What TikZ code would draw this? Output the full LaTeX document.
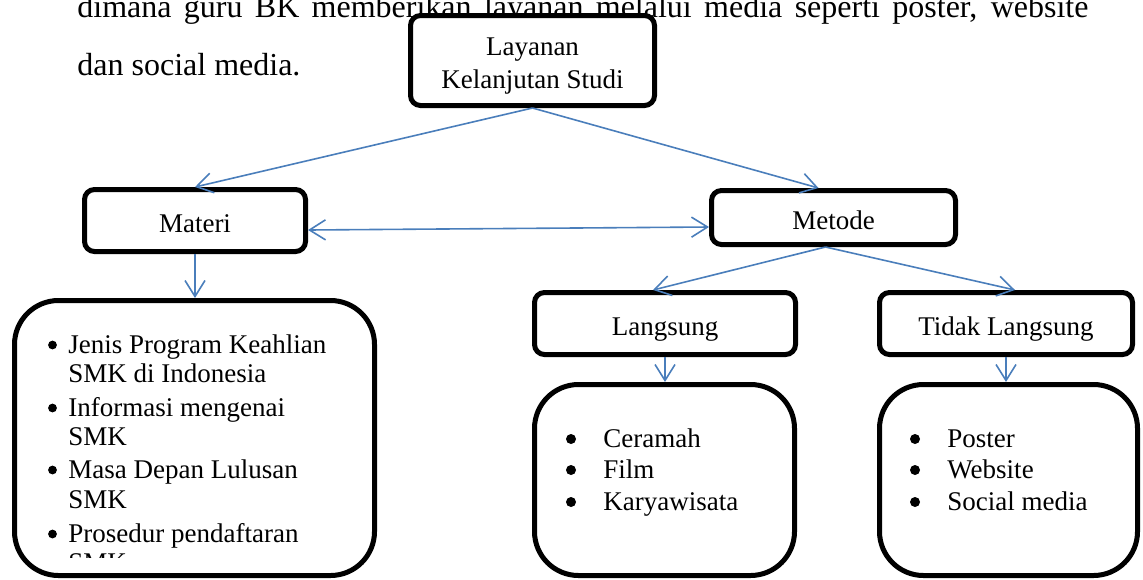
\documentclass[tikz,border=0pt]{standalone}
\usepackage{fontspec}
\setmainfont{Liberation Serif}
\usetikzlibrary{arrows.meta}
\definecolor{linkblue}{HTML}{4A7EBB}

\begin{document}
\begin{tikzpicture}[x=0.5pt,y=-0.5pt,
  >={Straight Barb[length=8pt,width=10pt]},
  box/.style={draw,line width=2.5pt,rounded corners=5pt,fill=white,align=center,inner sep=0pt,
    text height=12pt,text depth=0pt,font=\fontsize{13.5}{16.5}\selectfont},
  listbox/.style={draw,line width=2.5pt,rounded corners=22pt,fill=white,inner sep=0pt},
  link/.style={linkblue,line width=0.8pt,->},
  item/.style={anchor=base west,inner sep=0pt,font=\fontsize{13.5}{15}\selectfont},
  para/.style={anchor=base west,inner sep=0pt,font=\fontsize{16}{19}\selectfont}]
\useasboundingbox (0,0) rectangle (1143,579);

% running text of the page behind the diagram
\node[para] (para1) at (77,17) {\makebox[505.5pt][s]{dimana guru BK memberikan layanan melalui media seperti poster, website}};
\node[para] (para2) at (77,75) {dan social media.};

\node[box,text height=28pt,minimum width=122pt,minimum height=45pt] (studi) at (532.5,60.5) {Layanan\\Kelanjutan Studi};
\node[box,minimum width=110.5pt,minimum height=31pt] (materi) at (195,220.5) {Materi};
\node[box,minimum width=122pt,minimum height=27pt] (metode) at (833.5,217.5) {Metode};
\node[box,minimum width=130.5pt,minimum height=31pt] (langsung) at (665,323.5) {Langsung};
\node[box,minimum width=126.5pt,minimum height=31pt] (tidak) at (1006,323.5) {Tidak Langsung};

\node[listbox,minimum width=180pt,minimum height=137.5pt] (listmateri) at (194.5,438) {};
\node[listbox,minimum width=130pt,minimum height=95.5pt] (listlangsung) at (664.5,480) {};
\node[listbox,minimum width=129pt,minimum height=95.5pt] (listtidak) at (1008.5,480) {};

\draw[link] (studi.south) -- (materi.north);
\draw[link] (studi.south) -- ([xshift=-7.5pt]metode.north);
\draw[link,<->] ([yshift=-4.75pt]materi.east) -- ([yshift=-4.75pt]metode.west);
\draw[link] (materi.south) -- (materi.south |- listmateri.north);
\draw[link] ([xshift=-4pt]metode.south) -- ([xshift=-6pt]langsung.north);
\draw[link] ([xshift=-4pt]metode.south) -- ([xshift=4.5pt]tidak.north);
\draw[link] (langsung.south) -- (langsung.south |- listlangsung.north);
\draw[link] (tidak.south) -- (tidak.south |- listtidak.north);

% list texts
\foreach \txt/\yy [count=\i] in {Jenis Program Keahlian/353,SMK di Indonesia/382,Informasi mengenai/416,SMK/445,Masa Depan Lulusan/478,SMK/508,Prosedur pendaftaran/542}
  \node[item] (mat\i) at (68,\yy) {\txt};
\foreach \yy in {345,408,470,534}{\fill (52.5,\yy) circle[radius=2.2pt];}
\begin{scope}
  \clip (0,0) rectangle (1143,557);
  \node[item] (mat8) at (68,571) {SMK};
\end{scope}

\foreach \txt/\yy [count=\i] in {Ceramah/447,Film/478,Karyawisata/510}{
  \node[item] (lang\i) at (603,\yy) {\txt};
  \fill (571,\yy-8) circle[radius=2.5pt];}
\foreach \txt/\yy [count=\i] in {Poster/447,Website/478,Social media/510}{
  \node[item] (tid\i) at (947,\yy) {\txt};
  \fill (915,\yy-8) circle[radius=2.5pt];}
\end{tikzpicture}
\end{document}
